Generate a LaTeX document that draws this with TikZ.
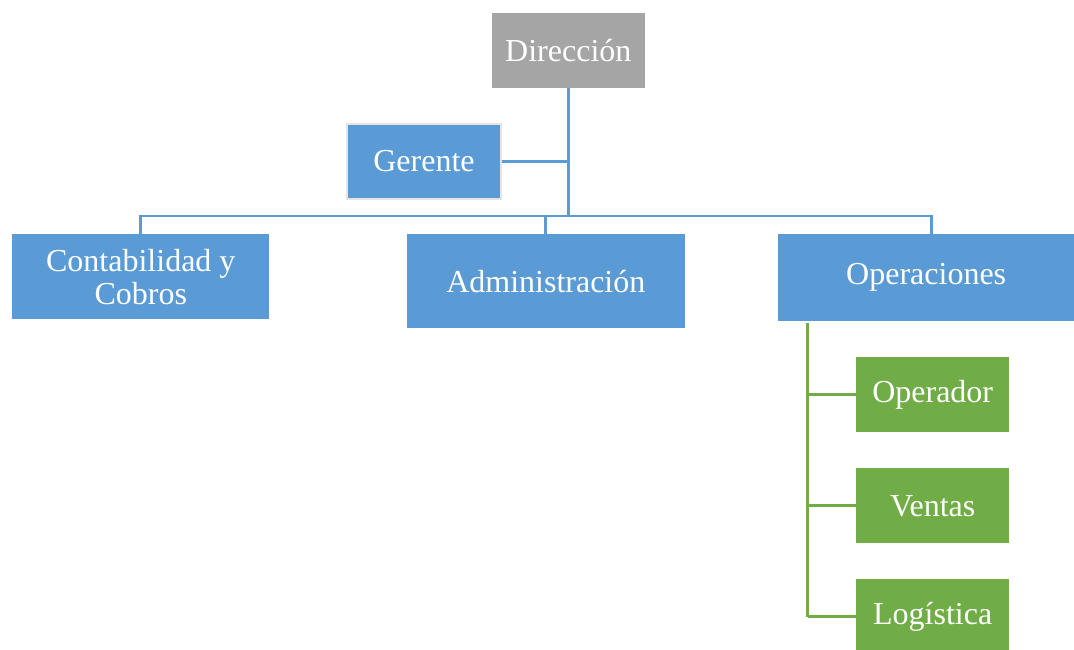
\documentclass[tikz,border=0pt]{standalone}
\usepackage{fontspec}
\setmainfont{Liberation Serif}
\definecolor{boxblue}{HTML}{5B9BD5}
\definecolor{boxgray}{HTML}{A5A5A5}
\definecolor{boxgreen}{HTML}{70AD47}
\definecolor{rimgray}{HTML}{E4E4E4}
\begin{document}
\begin{tikzpicture}[x=1pt,y=-1pt,
  box/.style={rectangle,inner sep=0pt,text=white,font=\fontsize{32}{33}\selectfont,align=center},
  bluebox/.style={box,fill=boxblue},
  graybox/.style={box,fill=boxgray},
  greenbox/.style={box,fill=boxgreen,minimum width=153pt,minimum height=75pt},
  bline/.style={draw=boxblue,line width=2.8pt},
  gline/.style={draw=boxgreen,line width=2.8pt}]
\useasboundingbox (0,0) rectangle (1074,649);
\clip (0,0) rectangle (1074,649);
\node[graybox,minimum width=153pt,minimum height=75pt] (dir) at (568.3,50.3) {Dirección};
\node[bluebox,draw=rimgray,line width=2pt,minimum width=154pt,minimum height=75pt] (ger) at (424,161.5) {Gerente};
\node[bluebox,minimum width=257pt,minimum height=85pt] (cont) at (140.8,276.8) {Contabilidad y\\Cobros};
\node[bluebox,minimum width=278pt,minimum height=94pt] (adm) at (545.8,281.3) {Administración};
\node[bluebox,minimum width=296pt,minimum height=87pt] (ope) at (926.2,277.7) {Operaciones};
\node[greenbox] (opr) at (932.7,394.8) {Operador};
\node[greenbox] (ven) at (932.7,505.8) {Ventas};
\node[greenbox] (log) at (932.7,616.5) {Logística};
\coordinate (hub) at (568.3,216);
\coordinate (hl) at (140.7,216);
\coordinate (hr) at (931.7,216);
\coordinate (gtop) at (807.7,323);
\coordinate (gbot) at (807.7,616.5);
% blue connectors
\draw[bline] (dir.south) -- (hub);
\draw[bline] (ger.east) -- (ger.east -| hub);
\draw[bline,line cap=rect] (hl) -- (hr);
\draw[bline] (hl) -- (hl |- cont.north);
\draw[bline] (adm.north |- hub) -- (adm.north);
\draw[bline] (hr) -- (hr |- ope.north);
% green connectors
\draw[gline] (gtop) -- (gbot);
\draw[gline] (opr.west -| gtop) -- (opr.west);
\draw[gline] (ven.west -| gtop) -- (ven.west);
\draw[gline] (log.west -| gtop) -- (log.west);
\end{tikzpicture}
\end{document}
